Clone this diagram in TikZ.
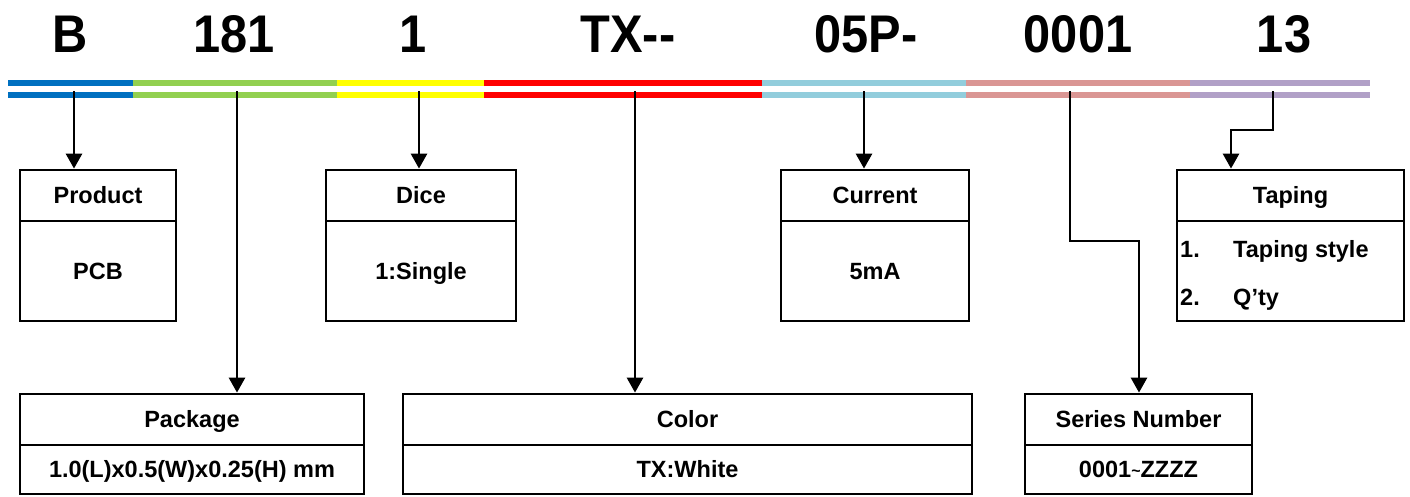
\documentclass[tikz,border=0pt]{standalone}
\usepackage{fontspec}
\setmainfont{Liberation Sans}
\usetikzlibrary{arrows.meta}
\definecolor{cBlue}{HTML}{0070C0}
\definecolor{cGreen}{HTML}{92D050}
\definecolor{cYellow}{HTML}{FFFF00}
\definecolor{cRed}{HTML}{FF0000}
\definecolor{cCyan}{HTML}{92CDDC}
\definecolor{cSalmon}{HTML}{DA9694}
\definecolor{cPurple}{HTML}{B1A0C7}
\begin{document}
\begin{tikzpicture}[x=1pt,y=-1pt,
  code/.style={anchor=base,inner sep=0pt,font=\fontsize{53}{60}\selectfont\bfseries},
  cell/.style={draw,line width=2.8pt,inner sep=0pt,text height=16.8pt,text depth=0pt,font=\fontsize{23.5}{28}\selectfont\bfseries,align=center},
  item/.style={anchor=base west,inner sep=0pt,font=\fontsize{23.5}{28}\selectfont\bfseries},
  arr/.style={line width=2.8pt,-{Triangle[width=16pt,length=15pt]}}]
\useasboundingbox (0,0) rectangle (1410,496);
% code labels
\node[code] (tB) at (70,52) {\scalebox{0.92}[1]{B}};
\node[code] (t181) at (234,52) {\scalebox{0.92}[1]{181}};
\node[code] (t1) at (413,52) {\scalebox{0.92}[1]{1}};
\node[code] (tTX) at (628,52) {\scalebox{0.92}[1]{TX-{}-}};
\node[code] (t05) at (866,52) {\scalebox{0.92}[1]{05P-}};
\node[code] (t0001) at (1078,52) {\scalebox{0.92}[1]{0001}};
\node[code] (t13) at (1284,52) {\scalebox{0.92}[1]{13}};
% bars
\foreach \a/\b/\c in {8/133/cBlue,133/337/cGreen,337/484/cYellow,484/762/cRed,762/966/cCyan,966/1190/cSalmon,1190/1370/cPurple}{
  \fill[\c] (\a,80) rectangle (\b,86);
  \fill[\c] (\a,92) rectangle (\b,98);
}
% boxes
\node[cell,minimum width=156pt,minimum height=51pt] (prodH) at (98,195.5) {Product};
\node[cell,minimum width=156pt,minimum height=100pt] (prodB) at (98,271) {PCB};
\node[cell,minimum width=190pt,minimum height=51pt] (diceH) at (421,195.5) {Dice};
\node[cell,minimum width=190pt,minimum height=100pt] (diceB) at (421,271) {1:Single};
\node[cell,minimum width=188pt,minimum height=51pt] (curH) at (875,195.5) {Current};
\node[cell,minimum width=188pt,minimum height=100pt] (curB) at (875,271) {5mA};
\node[cell,minimum width=227pt,minimum height=51pt] (tapH) at (1290.5,195.5) {Taping};
\node[cell,minimum width=227pt,minimum height=100pt] (tapB) at (1290.5,271) {};
\node[item] (tap1n) at (1180,257) {1.};
\node[item] (tap1t) at (1233,257) {Taping style};
\node[item] (tap2n) at (1180,305) {2.};
\node[item] (tap2t) at (1233,305) {Q’ty};
\node[cell,minimum width=344pt,minimum height=51pt] (pkgH) at (192,419.5) {Package};
\node[cell,minimum width=344pt,minimum height=49pt] (pkgB) at (192,469.5) {1.0(L)x0.5(W)x0.25(H) mm};
\node[cell,minimum width=569pt,minimum height=51pt] (colH) at (687.5,419.5) {Color};
\node[cell,minimum width=569pt,minimum height=49pt] (colB) at (687.5,469.5) {TX:White};
\node[cell,minimum width=227pt,minimum height=51pt] (serH) at (1138.5,419.5) {Series Number};
\node[cell,minimum width=227pt,minimum height=49pt] (serB) at (1138.5,469.5) {0001\raisebox{0.1ex}{\fontsize{16}{16}\selectfont\char"007E}ZZZZ};
% connectors
\coordinate (sB) at (74,91);
\coordinate (s181) at (237,91);
\coordinate (s1) at (419,91);
\coordinate (sTX) at (635,91);
\coordinate (s05) at (864,91);
\coordinate (s0001) at (1070,91);
\coordinate (s13) at (1273,91);
\coordinate (k1) at (1070,241);
\coordinate (k2) at (1139,241);
\coordinate (m1) at (1273,130);
\coordinate (m2) at (1231,130);
\draw[arr] (sB) -- (sB |- prodH.north);
\draw[arr] (s181) -- (s181 |- pkgH.north);
\draw[arr] (s1) -- (s1 |- diceH.north);
\draw[arr] (sTX) -- (sTX |- colH.north);
\draw[arr] (s05) -- (s05 |- curH.north);
\draw[arr] (s0001) -- (k1) -- (k2) -- (k2 |- serH.north);
\draw[arr] (s13) -- (m1) -- (m2) -- (m2 |- tapH.north);
\end{tikzpicture}
\end{document}
